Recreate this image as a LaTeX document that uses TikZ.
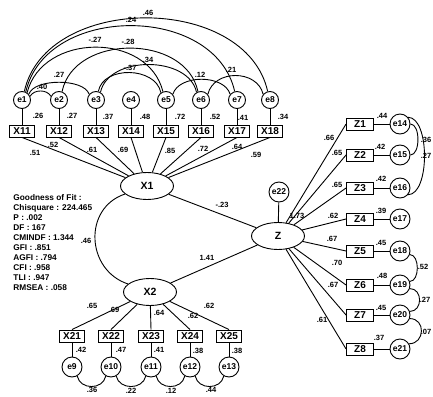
\documentclass[tikz,border=0pt]{standalone}
\usepackage{fontspec}
\setmainfont{Liberation Sans}
\usetikzlibrary{shapes.geometric}

\begin{document}
\begin{tikzpicture}[x=1pt,y=-1pt,line width=0.9pt,
    obs/.style={draw,minimum width=25pt,minimum height=12pt,inner sep=0.5pt,
      font=\bfseries\fontsize{10}{10}\selectfont},
    err/.style={draw,circle,minimum size=17pt,inner sep=0pt,
      font=\bfseries\fontsize{8.5}{9}\selectfont},
    errb/.style={err,minimum size=20pt},
    lat/.style={draw,ellipse,minimum width=53pt,minimum height=27pt,inner sep=0pt,
      font=\bfseries\fontsize{10.5}{11}\selectfont},
    coef/.style={inner sep=0pt,font=\bfseries\fontsize{7.5}{8}\selectfont}]
  \fill[white] (0,0) rectangle (433,396);
  \useasboundingbox (0,0) rectangle (433,396);

  % latent variables
  \node[lat] (X1) at (147,186) {X1};
  \node[lat] (X2) at (150,292) {X2};
  \node[lat] (Z) at (278,236) {Z};
  \node[errb] (e22) at (279,192) {e22};
  \draw (e22) -- (Z);
  \draw (X1) -- (Z);
  \draw (X2) -- (Z);
  \draw (X1.200) .. controls +(-42,14) and +(-42,-14) .. (X2.160);

  % X1 block
  \foreach \i/\px in {1/22,2/59,3/96,4/131,5/166,6/201,7/237,8/270}{
    \node[err] (e\i) at (\px,100) {e\i};
    \node[obs] (X1\i) at (\px,131) {X1\i};
    \draw (e\i) -- (X1\i);
    \draw (X1) -- (X1\i.south);
  }

  % correlated errors, top
  \draw (e1.75) .. controls +(22,-98) and +(-22,-98) .. (e8.105);
  \draw (e1.65) .. controls +(20,-88) and +(-20,-88) .. (e7.105);
  \draw (e1.55) .. controls +(15,-60) and +(-15,-60) .. (e5.110);
  \draw (e2.70) .. controls +(12,-58) and +(-12,-58) .. (e6.110);
  \draw (e3.60) .. controls +(8,-37) and +(-8,-37) .. (e6.120);
  \draw (e3.75) .. controls +(5,-26) and +(-5,-26) .. (e5.125);
  \draw (e1.40) .. controls +(5,-16) and +(-5,-16) .. (e3.140);
  \draw (e1.25) .. controls +(4,-7) and +(-4,-7) .. (e2.155);
  \draw (e5.40) .. controls +(6,-20) and +(-6,-20) .. (e7.140);
  \draw (e6.40) .. controls +(6,-25) and +(-6,-25) .. (e8.140);

  % Z block
  \foreach \i/\py/\e in {1/124/14,2/155/15,3/188/16,4/219/17,
    5/251/18,6/285/19,7/315/20,8/349/21}{
    \node[obs,minimum width=27pt] (Z\i) at (360,\py) {Z\i};
    \node[errb] (e\e) at (400,\py) {e\e};
    \draw (Z\i) -- (e\e);
    \draw (Z) -- (Z\i.west);
  }
  \draw (e14.east) .. controls +(10,0) and +(10,0) .. (e15.east);
  \draw (e14.40) .. controls +(22,0) and +(22,0) .. (e16.320);
  \draw (e18.340) .. controls +(10,0) and +(10,0) .. (e19.20);
  \draw (e19.340) .. controls +(13,0) and +(13,0) .. (e20.20);
  \draw (e20.340) .. controls +(16,0) and +(16,0) .. (e21.30);

  % X2 block
  \foreach \i/\px/\e in {1/72/9,2/111/10,3/151/11,4/190/12,5/229/13}{
    \node[obs] (X2\i) at (\px,336) {X2\i};
    \node[errb] (e\e) at (\px,367) {e\e};
    \draw (X2\i) -- (e\e);
    \draw (X2) -- (X2\i.north);
  }
  \draw (e9.300) .. controls +(3,14) and +(-3,14) .. (e10.240);
  \draw (e10.300) .. controls +(3,14) and +(-3,14) .. (e11.240);
  \draw (e11.300) .. controls +(3,14) and +(-3,14) .. (e12.240);
  \draw (e12.300) .. controls +(3,14) and +(-3,14) .. (e13.240);

  % coefficients
  \foreach \lx/\ly/\tv [count=\k] in {35/153/.51,53/145/.52,92/150/.61,
    123/150/.69,170/151/.85,203/149/.72,237/147/.64,256/155/.59,
    38/116/.26,72/116/.27,108/117/.37,145/117/.48,180/117/.72,
    215/117/.52,243/118/.41,283/117/.34,
    148/13/.46,131/20/.24,95/40/-.27,128/42/-.28,148/60/.34,
    130/68/-.37,59/75/.27,42/87/.40,200/75/.12,231/70/.21,
    329/138/.66,337/153/.65,337/185/.65,333/216/.62,332/239/.67,
    337/263/.70,333/285/.67,322/320/.61,
    382/116/.44,380/147/.42,381/179/.42,381/211/.39,381/243/.45,
    382/276/.48,381/308/.45,379/338/.37,
    426/140/.36,426/156/.27,423/267/.52,425/300/.27,426/332/.07,
    92/306/.65,114/310/.69,159/313/.64,193/316/.62,209/306/.62,
    81/350/.42,121/350/.47,159/350/.41,198/351/.38,237/351/.38,
    92/390/.36,131/391/.22,171/391/.12,211/390/.44,
    222/205/-.23,207/258/1.41,297/216/1.73,86/241/.46}{
    \node[coef] (cf\k) at (\lx,\ly) {\tv};
  }

  % fit indices
  \node[align=left,anchor=north west,inner sep=0pt,
    font=\bfseries\fontsize{8.3}{10}\selectfont] (gof) at (13,194)
    {Goodness of Fit :\\Chisquare : 224.465\\P : .002\\DF : 167\\
     CMINDF : 1.344\\GFI : .851\\AGFI : .794\\CFI : .958\\TLI : .947\\
     RMSEA : .058};
\end{tikzpicture}
\end{document}
